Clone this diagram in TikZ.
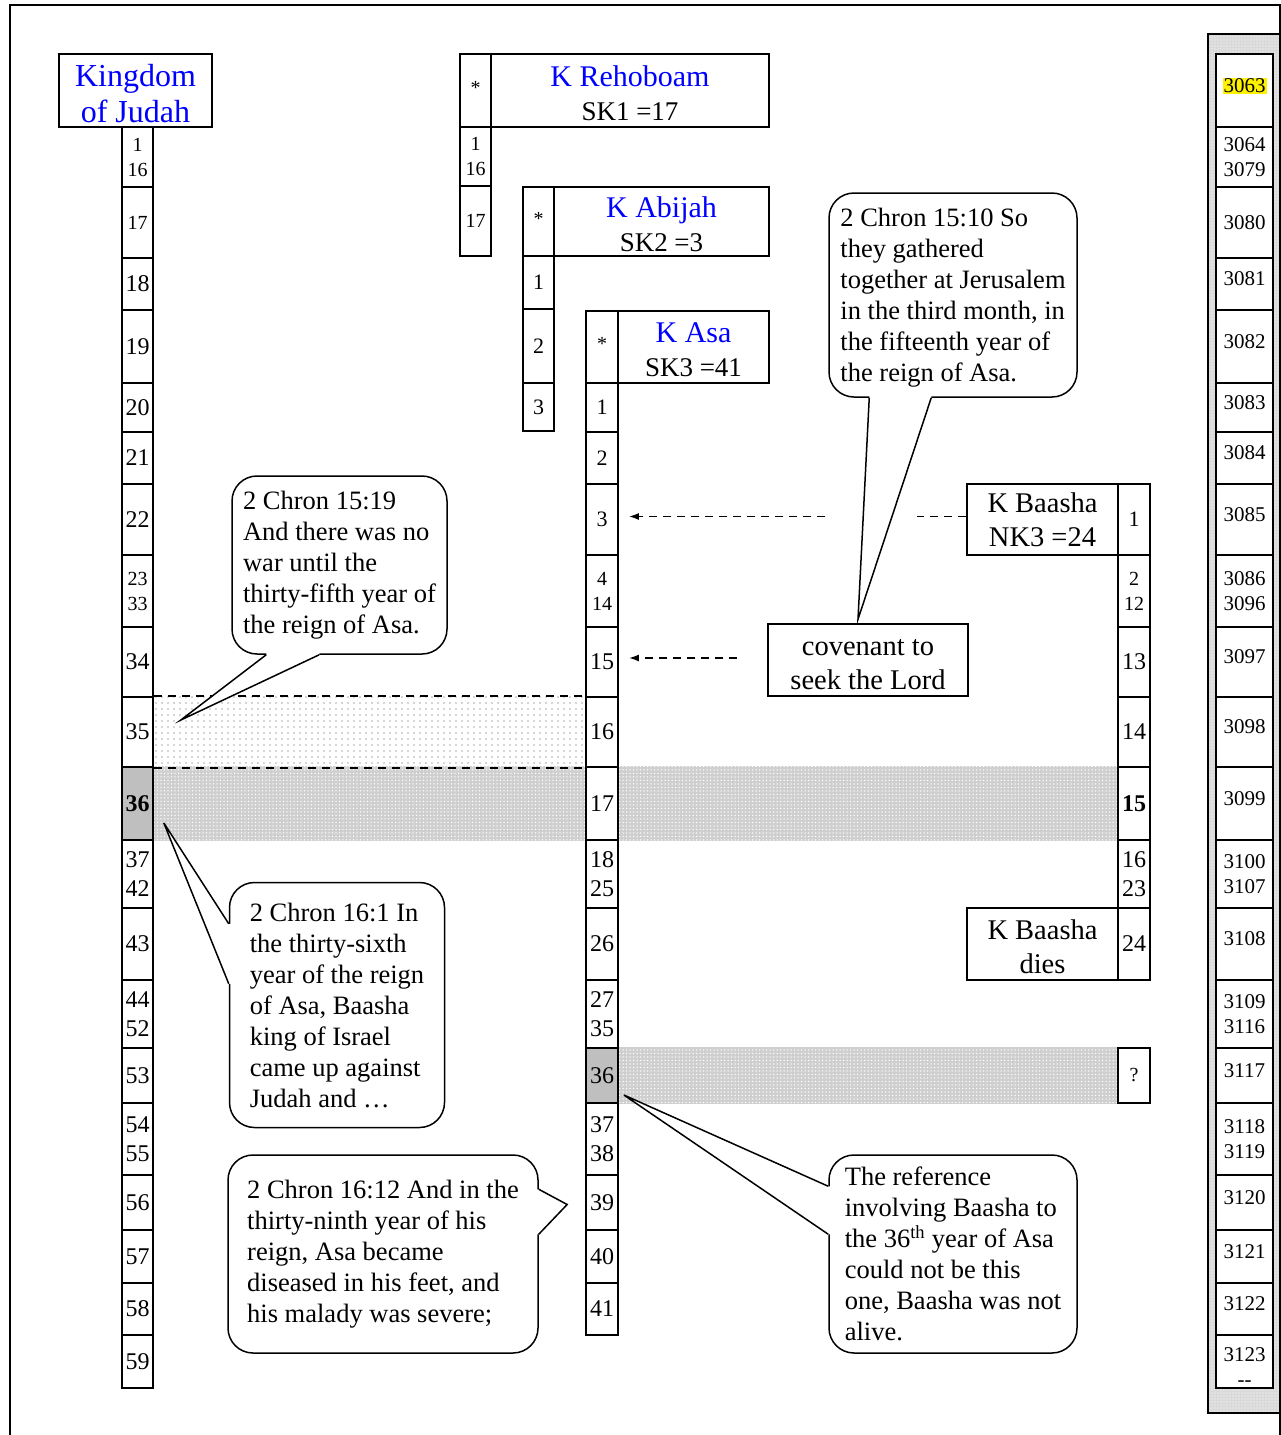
\documentclass[tikz,border=0pt]{standalone}
\usepackage{fontspec}
\setmainfont{Liberation Serif}
\usetikzlibrary{calc,patterns,patterns.meta,arrows.meta,backgrounds}
\definecolor{tblue}{RGB}{0,0,255}
\newcommand\myBig{\fontsize{24}{29}\selectfont}
\newcommand\myMed{\fontsize{22}{26}\selectfont}
\newcommand\mySml{\fontsize{20}{25}\selectfont}
\newcommand\myYr{\fontsize{21}{25}\selectfont}
\newcommand\myTitle{\fontsize{30}{36}\selectfont}
\newcommand\myKing{\fontsize{32}{36}\selectfont}
\newcommand\mySub{\fontsize{27}{34}\selectfont}
\newcommand\myKb{\fontsize{28.5}{34}\selectfont}
\newcommand\myCall{\fontsize{26.5}{31}\selectfont}
\newcommand\yup[1]{#1\rule[-10pt]{0pt}{10pt}}
\newcommand\starup[1]{#1\rule[-6pt]{0pt}{6pt}}
\setlength\fboxsep{1pt}
\tikzset{
  cell/.style={draw, line width=1.7pt, inner sep=0pt, align=center, fill=white, font=\myBig},
  ycell/.style={cell, font=\myYr, minimum width=57pt},
  tbox/.style={draw, line width=1.5pt, inner sep=0pt, align=center, fill=white},
  callout/.style={draw, fill=white, line width=1.5pt, rounded corners=25pt, align=left, font=\myCall, inner sep=0pt},
  cl/.style={line width=1.5pt, line join=miter},
  dline/.style={line width=1.6pt, dash pattern=on 8pt off 6pt},
  tipa/.style={-{Latex[length=10pt,width=7pt]}},
  gband/.style={preaction={fill=gray!38}, pattern={Dots[distance=3.5pt,radius=0.75pt]}, pattern color=white}
}
\begin{document}
\begin{tikzpicture}[x=1pt,y=-1pt]
\useasboundingbox (0,0) rectangle (1281,1435);
% page frame
\draw[line width=1.5pt] (10,1435) -- (10,5) -- (1280,5) -- (1280,1435);
% right strip
\fill[gray!30] (1208,34) rectangle (1280,1413);
\fill[pattern={Dots[distance=3pt,radius=0.7pt]}, pattern color=white] (1208,34) rectangle (1280,1413);
\draw[line width=1.5pt] (1208,34) rectangle (1280,1413);

% ---- Kingdom of Judah column
\node[tbox, font=\myKing, text=tblue, minimum width=153pt, minimum height=73pt] (kj) at (135.5,90.5) {\rule{0pt}{29pt}Kingdom\\of Judah};
\foreach \n/\a/\b/\t in {
 j1/127/187/{\mySml 1\\[-4pt]\mySml 16}, j2/187/258/{\mySml 17}, j3/258/310/18, j4/310/383/19,
 j5/383/432/20, j6/432/484/21, j7/484/555/22, j8/555/627/{\mySml 23\\[-4pt]\mySml 33},
 j9/627/697/34, j10/697/767/35, j12/840/908/{37\\42}, j13/908/980/43,
 j14/980/1048/{44\\52}, j15/1048/1103/53, j16/1103/1175/{54\\55}, j17/1175/1230/56,
 j18/1230/1283/57, j19/1283/1335/58, j20/1335/1388/59}
 {\node[cell, minimum width=31pt, minimum height={\b-\a}] (\n) at (137.5,{(\a+\b)/2}) {\t};}
\node[cell, fill=gray!50, minimum width=31pt, minimum height=73pt] (j11) at (137.5,803.5) {\bfseries 36};

% ---- Rehoboam
\node[cell, font=\mySml, minimum width=31pt, minimum height=73pt] (r0) at (475.5,90.5) {\starup{*}};
\node[tbox, font=\mySub, minimum width=278pt, minimum height=73pt] (rt) at (630,90.5) {{\myTitle\color{tblue}\rule{0pt}{26pt}K Rehoboam}\\SK1 =17};
\node[cell, font=\mySml, minimum width=31pt, minimum height=59pt] (r1) at (475.5,156.5) {1\\16};
\node[cell, font=\mySml, minimum width=31pt, minimum height=70pt] (r2) at (475.5,221) {17};

% ---- Abijah
\node[cell, font=\mySml, minimum width=31pt, minimum height=69pt] (ab0) at (538.5,221.5) {\starup{*}};
\node[tbox, font=\mySub, minimum width=215pt, minimum height=69pt] (abt) at (661.5,221.5) {{\myTitle\color{tblue}\rule{0pt}{26pt}K Abijah}\\SK2 =3};
\foreach \n/\a/\b/\t in {ab1/256/309/1, ab2/309/383/2, ab3/383/431/3}
 {\node[cell, font=\myMed, minimum width=31pt, minimum height={\b-\a}] (\n) at (538.5,{(\a+\b)/2}) {\t};}

% ---- Asa
\node[cell, font=\mySml, minimum width=32pt, minimum height=72pt] (as0) at (602,347) {\starup{*}};
\node[tbox, font=\mySub, minimum width=151pt, minimum height=72pt] (ast) at (693.5,347) {{\myTitle\color{tblue}\rule{0pt}{25pt}K Asa}\\SK3 =41};
\foreach \n/\a/\b/\t in {
 as1/383/432/{\myMed 1}, as2/432/484/{\myMed 2}, as3/484/555/{\myMed 3}, as4/555/627/{\mySml 4\\[-4pt]\mySml 14},
 as5/627/697/15, as6/697/767/16, as7/767/840/17, as8/840/908/{18\\25}, as9/908/980/26,
 as10/980/1048/{27\\35}, as12/1103/1175/{37\\38}, as13/1175/1230/39, as14/1230/1283/40,
 as15/1283/1335/41}
 {\node[cell, minimum width=32pt, minimum height={\b-\a}] (\n) at (602,{(\a+\b)/2}) {\t};}
\node[cell, fill=gray!50, minimum width=32pt, minimum height=55pt] (as11) at (602,1075.5) {36};

% ---- Baasha
\node[tbox, font=\myKb, minimum width=151pt, minimum height=71pt] (bt) at (1042.5,519.5) {K Baasha\\NK3 =24};
\foreach \n/\a/\b/\t in {
 b1/484/555/{\myMed 1}, b2/555/627/{\mySml 2\\[-4pt]\mySml 12}, b3/627/697/13, b4/697/767/14,
 b5/767/840/{\bfseries 15}, b6/840/908/{16\\23}, b7/908/980/24, bq/1048/1103/{\mySml ?}}
 {\node[cell, minimum width=32pt, minimum height={\b-\a}] (\n) at (1134,{(\a+\b)/2}) {\t};}
\node[tbox, font=\myKb, minimum width=151pt, minimum height=72pt] (bd) at (1042.5,944) {\rule{0pt}{25pt}K Baasha\\dies};
\node[tbox, font=\myKb, minimum width=200pt, minimum height=72pt] (cov) at (868,660) {\rule{0pt}{25pt}covenant to\\seek the Lord};

% ---- years column
\foreach \n/\a/\b/\t in {
 y1/54/127/{\yup{\colorbox{yellow}{3063}}}, y2/127/187/{3064\\3079}, y3/187/258/{3080}, y4/258/310/{\yup{3081}},
 y5/310/383/{\yup{3082}}, y6/383/432/{\yup{3083}}, y7/432/484/{\yup{3084}}, y8/484/555/{\yup{3085}}, y9/555/627/{3086\\3096},
 y10/627/697/{\yup{3097}}, y11/697/767/{\yup{3098}}, y12/767/840/{\yup{3099}}, y13/840/908/{3100\\3107},
 y14/908/980/{\yup{3108}}, y15/980/1048/{3109\\3116}, y16/1048/1103/{\yup{3117}}, y17/1103/1175/{3118\\3119},
 y18/1175/1230/{\yup{3120}}, y19/1230/1283/{\yup{3121}}, y20/1283/1335/{\yup{3122}}, y21/1335/1388/{\rule{0pt}{24pt}3123\\{-}{-}}}
 {\node[ycell, minimum height={\b-\a}] (\n) at (1244.5,{(\a+\b)/2}) {\t};}

% ---- bands
\begin{scope}[on background layer]
\fill[pattern={Dots[distance=6pt,radius=0.8pt]}, pattern color=gray!65] (j10.north east) rectangle (as6.south west);
\fill[gband] (j11.north east) rectangle (b5.south west);
\fill[gband] (as11.north east) rectangle (bq.south west);
\end{scope}
\draw[dline] (j10.north east) -- (as6.north west);
\draw[dline] (j10.south east) -- (as6.south west);

% ---- dashed arrows
\coordinate (g1) at ($(bt.west)+(-49,-3)$);
\coordinate (g2) at ($(bt.west)+(-141,-3)$);
\draw[dline] ($(bt.west)+(0,-3)$) -- (g1);
\draw[dline, tipa, shorten >=10pt] (g2) -- (g2 -| as3.east);
\draw[dline, tipa, shorten <=30pt, shorten >=10pt] ($(cov.west)+(0,-2)$) -- ($(cov.west -| as5.east)+(0,-2)$);

% ---- callouts
\node[callout, minimum width=248pt, minimum height=204pt] (c1) at (953,295) {\rule{0pt}{24pt}2 Chron 15:10 So\\they gathered\\together at Jerusalem\\in the third month, in\\the fifteenth year of\\the reign of Asa.};
\coordinate (t1) at ($(cov.north)+(-10,-4)$);
\fill[white] ($(c1.south west)+(41,-3)$) -- ($(c1.south west)+(41,0)$) -- (t1) -- ($(c1.south west)+(103,0)$) -- ($(c1.south west)+(103,-3)$) -- cycle;
\draw[cl] ($(c1.south west)+(41,0)$) -- (t1) -- ($(c1.south west)+(103,0)$);

\node[callout, minimum width=215pt, minimum height=178pt] (c2) at (339.5,565) {2 Chron 15:19\\And there was no\\war until the\\thirty-fifth year of\\the reign of Asa.};
\coordinate (t2) at ($(j10.east)+(27,-12)$);
\fill[white] ($(c2.south west)+(35,-3)$) -- ($(c2.south west)+(35,0)$) -- (t2) -- ($(c2.south west)+(88,0)$) -- ($(c2.south west)+(88,-3)$) -- cycle;
\draw[cl] ($(c2.south west)+(35,0)$) -- (t2) -- ($(c2.south west)+(88,0)$);

\node[callout, minimum width=215pt, minimum height=245pt] (c3) at (337,1005) {2 Chron 16:1 In\\the thirty-sixth\\year of the reign\\of Asa, Baasha\\king of Israel\\came up against\\Judah and \dots};
\coordinate (t3) at ($(j11.east)+(10,19.5)$);
\fill[white] ($(c3.north west)+(3,42)$) -- ($(c3.north west)+(0,42)$) -- (t3) -- ($(c3.north west)+(0,102)$) -- ($(c3.north west)+(3,102)$) -- cycle;
\draw[cl] ($(c3.north west)+(0,42)$) -- (t3) -- ($(c3.north west)+(0,102)$);

\node[callout, minimum width=310pt, minimum height=198pt] (c4) at (383,1254) {2 Chron 16:12 And in the\\thirty-ninth year of his\\reign, Asa became\\diseased in his feet, and\\his malady was severe;};
\coordinate (t4) at ($(as13.west)+(-18,2)$);
\fill[white] ($(c4.north east)+(-3,35)$) -- ($(c4.north east)+(0,35)$) -- (t4) -- ($(c4.north east)+(0,80)$) -- ($(c4.north east)+(-3,80)$) -- cycle;
\draw[cl] ($(c4.north east)+(0,35)$) -- (t4) -- ($(c4.north east)+(0,80)$);

\node[callout, minimum width=248pt, minimum height=198pt] (c5) at (953,1254) {The reference\\involving Baasha to\\the 36\textsuperscript{th} year of Asa\\could not be this\\one, Baasha was not\\alive.};
\coordinate (t5) at ($(as11.east)+(5,19.5)$);
\fill[white] ($(c5.north west)+(3,32)$) -- ($(c5.north west)+(0,32)$) -- (t5) -- ($(c5.north west)+(0,80)$) -- ($(c5.north west)+(3,80)$) -- cycle;
\draw[cl] ($(c5.north west)+(0,32)$) -- (t5) -- ($(c5.north west)+(0,80)$);
\end{tikzpicture}
\end{document}
